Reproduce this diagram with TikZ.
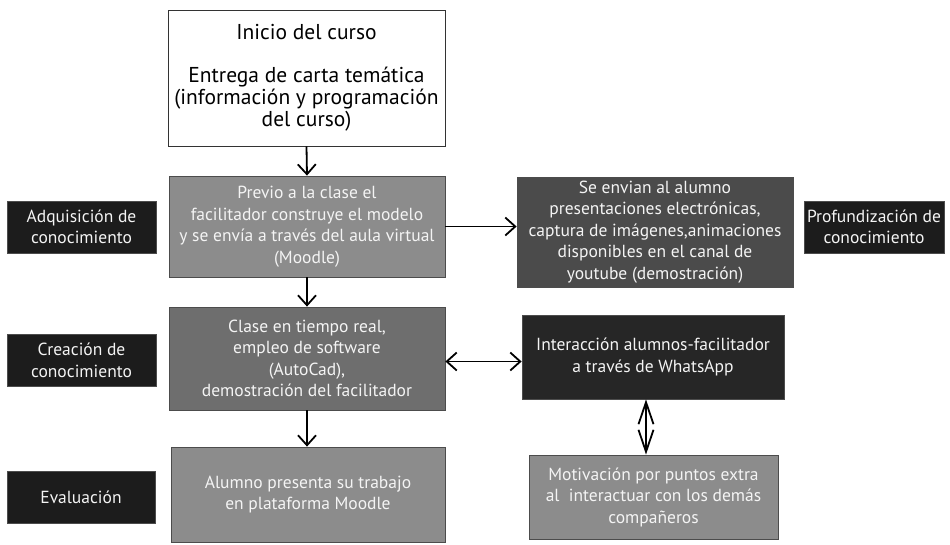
\documentclass[tikz,border=0pt]{standalone}
\usepackage{fontspec}
\setmainfont{PT Sans}
\usetikzlibrary{arrows.meta}

\definecolor{boxgray}{HTML}{8C8C8C}
\definecolor{midgray}{HTML}{6E6E6E}
\definecolor{darkgray}{HTML}{4B4B4B}
\definecolor{nearblack}{HTML}{262626}
\definecolor{labelblack}{HTML}{1C1C1C}
\definecolor{softwhite}{HTML}{F4F4F4}

\begin{document}
\begin{tikzpicture}[x=1pt,y=-1pt]
		\tikzstyle{every node}+=[align=center,font=\fontsize{17.5}{21.5}\selectfont,inner sep=0pt]
		\tikzstyle{stage}=[draw=black!70,line width=0.8pt,text=softwhite]
		\tikzstyle{tag}=[stage,fill=labelblack,minimum height=52pt]
		\tikzstyle{flow}=[line width=1.8pt,-{Straight Barb[length=10pt,width=18pt,line width=1.8pt]}]
		\tikzstyle{both}=[line width=1.8pt,{Straight Barb[length=10pt,width=18pt,line width=1.8pt]}-{Straight Barb[length=10pt,width=18pt,line width=1.8pt]}]
		\useasboundingbox (0,0) rectangle (950,544);
		% central column
		\node [draw=black!80,line width=0.8pt,fill=white,minimum width=277pt,minimum height=136pt,font=\fontsize{21.5}{22}\selectfont] (inicio) at (306.5,78) {Inicio del curso\\[21pt]Entrega de carta temática\\(información y programación\\del curso)};
		\node [stage,fill=boxgray,minimum width=276pt,minimum height=101pt] (previo) at (307,226.5) {Previo a la clase el\\facilitador construye el modelo\\y se envía a través del aula virtual\\(Moodle)};
		\node [stage,fill=midgray,minimum width=276pt,minimum height=103pt] (clase) at (307,358.5) {Clase en tiempo real,\\empleo de software\\(AutoCad),\\demostración del facilitador};
		\node [stage,fill=boxgray,minimum width=274pt,minimum height=95pt] (alumno) at (308,494.5) {Alumno presenta su trabajo\\en plataforma Moodle};
		% right column
		\node [stage,fill=darkgray,minimum width=276pt,minimum height=110pt] (envian) at (655,232) {Se envian al alumno\\presentaciones electrónicas,\\captura de imágenes,animaciones\\disponibles en el canal de\\youtube (demostración)};
		\node [stage,fill=nearblack,minimum width=262pt,minimum height=84pt] (whats) at (653,357) {Interacción alumnos-facilitador\\a través de WhatsApp};
		\node [stage,fill=boxgray,minimum width=249pt,minimum height=84pt] (motiva) at (653.5,497) {Motivación por puntos extra\\al~ interactuar con los demás\\compañeros};
		% side labels
		\node [tag,minimum width=149pt] (adquis) at (81.5,227) {Adquisición de\\conocimiento};
		\node [tag,minimum width=149pt] (creacion) at (81.5,360.5) {Creación de\\conocimiento};
		\node [tag,minimum width=148pt] (evalua) at (81,497) {Evaluación};
		\node [tag,minimum width=140pt] (profund) at (874,227) {Profundización de\\conocimiento};
		% connectors
		\draw [flow] (inicio.south) -- (previo.north);
		\draw [flow] (previo.south) -- (clase.north);
		\draw [flow] (clase.south) -- (clase.south |- alumno.north);
		\draw [flow] (previo.east) -- (previo.east -| envian.west);
		\draw [both] ([yshift=-3pt]clase.east) -- ([yshift=-3pt]clase.east -| whats.west);
		\draw [line width=1.8pt,{Straight Barb[length=22pt,width=15pt,line width=1.8pt]}-{Straight Barb[length=22pt,width=15pt,line width=1.8pt]}] ([xshift=-7pt]whats.south) -- ([xshift=-7pt]whats.south |- motiva.north);
	\end{tikzpicture}
\end{document}
